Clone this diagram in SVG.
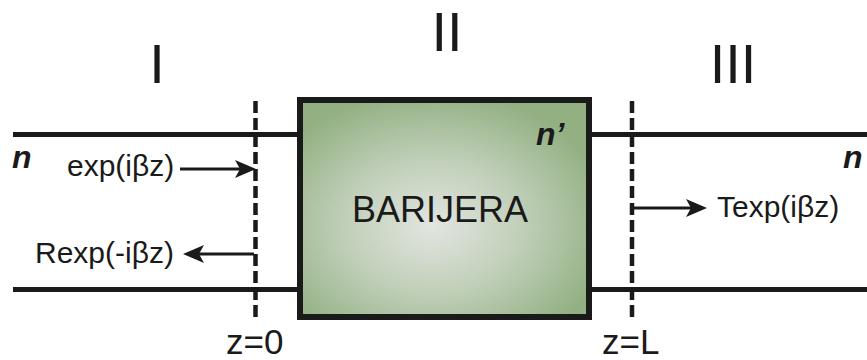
<svg xmlns="http://www.w3.org/2000/svg" width="867" height="360" viewBox="0 0 867 360">
<style>
.t{font-family:"Liberation Sans",Arial,sans-serif;fill:#1a1a1a}
.ni{font-family:"Liberation Sans",Arial,sans-serif;font-weight:bold;font-style:italic;font-size:32px;fill:#1a1a1a}
.wall{stroke:#1a1a1a;stroke-width:5;fill:none}
.dash{stroke:#1a1a1a;stroke-width:4.5;stroke-dasharray:12 5;fill:none}
.arr{stroke:#1a1a1a;stroke-width:3;fill:none}
.head{fill:#1a1a1a;stroke:none}
</style>
<defs>
<radialGradient id="g" cx="0.46" cy="0.58" r="0.62">
<stop offset="0" stop-color="#e2e5e0"/>
<stop offset="0.5" stop-color="#c0cfb8"/>
<stop offset="1" stop-color="#93b083"/>
</radialGradient>
<path id="ah" class="head" d="M0,0 L-21,-9 L-16,0 L-21,9 Z"/>
</defs>
<g id="waveguide">
<line class="wall" x1="13" y1="134.5" x2="300" y2="134.5"/>
<line class="wall" x1="13" y1="289.5" x2="300" y2="289.5"/>
<line class="wall" x1="589" y1="134.5" x2="867" y2="134.5"/>
<line class="wall" x1="589" y1="289.5" x2="867" y2="289.5"/>
</g>
<g id="barrier">
<rect x="300" y="100" width="289" height="217" fill="url(#g)" stroke="#1a1a1a" stroke-width="6"/>
<text class="t" x="352" y="222" font-size="36">BARIJERA</text>
<text class="ni" x="536" y="145">n’</text>
</g>
<g id="boundaries">
<line class="dash" x1="255.5" y1="101" x2="255.5" y2="318"/>
<line class="dash" x1="632" y1="101" x2="632" y2="318"/>
<text class="t" x="226" y="354" font-size="35">z=0</text>
<text class="t" x="602" y="354" font-size="35">z=L</text>
</g>
<g id="regions">
<text class="t" x="157" y="83" font-size="56" text-anchor="middle">I</text>
<text class="t" x="447" y="51" font-size="56" text-anchor="middle">II</text>
<text class="t" x="733" y="83" font-size="56" text-anchor="middle">III</text>
<text class="ni" x="12" y="168">n</text>
<text class="ni" x="843" y="168">n</text>
</g>
<g id="connectors">
<line class="arr" x1="180" y1="169" x2="241" y2="169"/>
<use href="#ah" transform="translate(256,169)"/>
<line class="arr" x1="254" y1="254" x2="198" y2="254"/>
<use href="#ah" transform="translate(183,254) rotate(180)"/>
<line class="arr" x1="633" y1="208" x2="692" y2="208"/>
<use href="#ah" transform="translate(707,208)"/>
</g>
<g id="labels">
<text class="t" x="67" y="176" font-size="30">exp(iβz)</text>
<text class="t" x="35" y="263" font-size="30">Rexp(-iβz)</text>
<text class="t" x="717" y="217" font-size="30">Texp(iβz)</text>
</g>
</svg>
